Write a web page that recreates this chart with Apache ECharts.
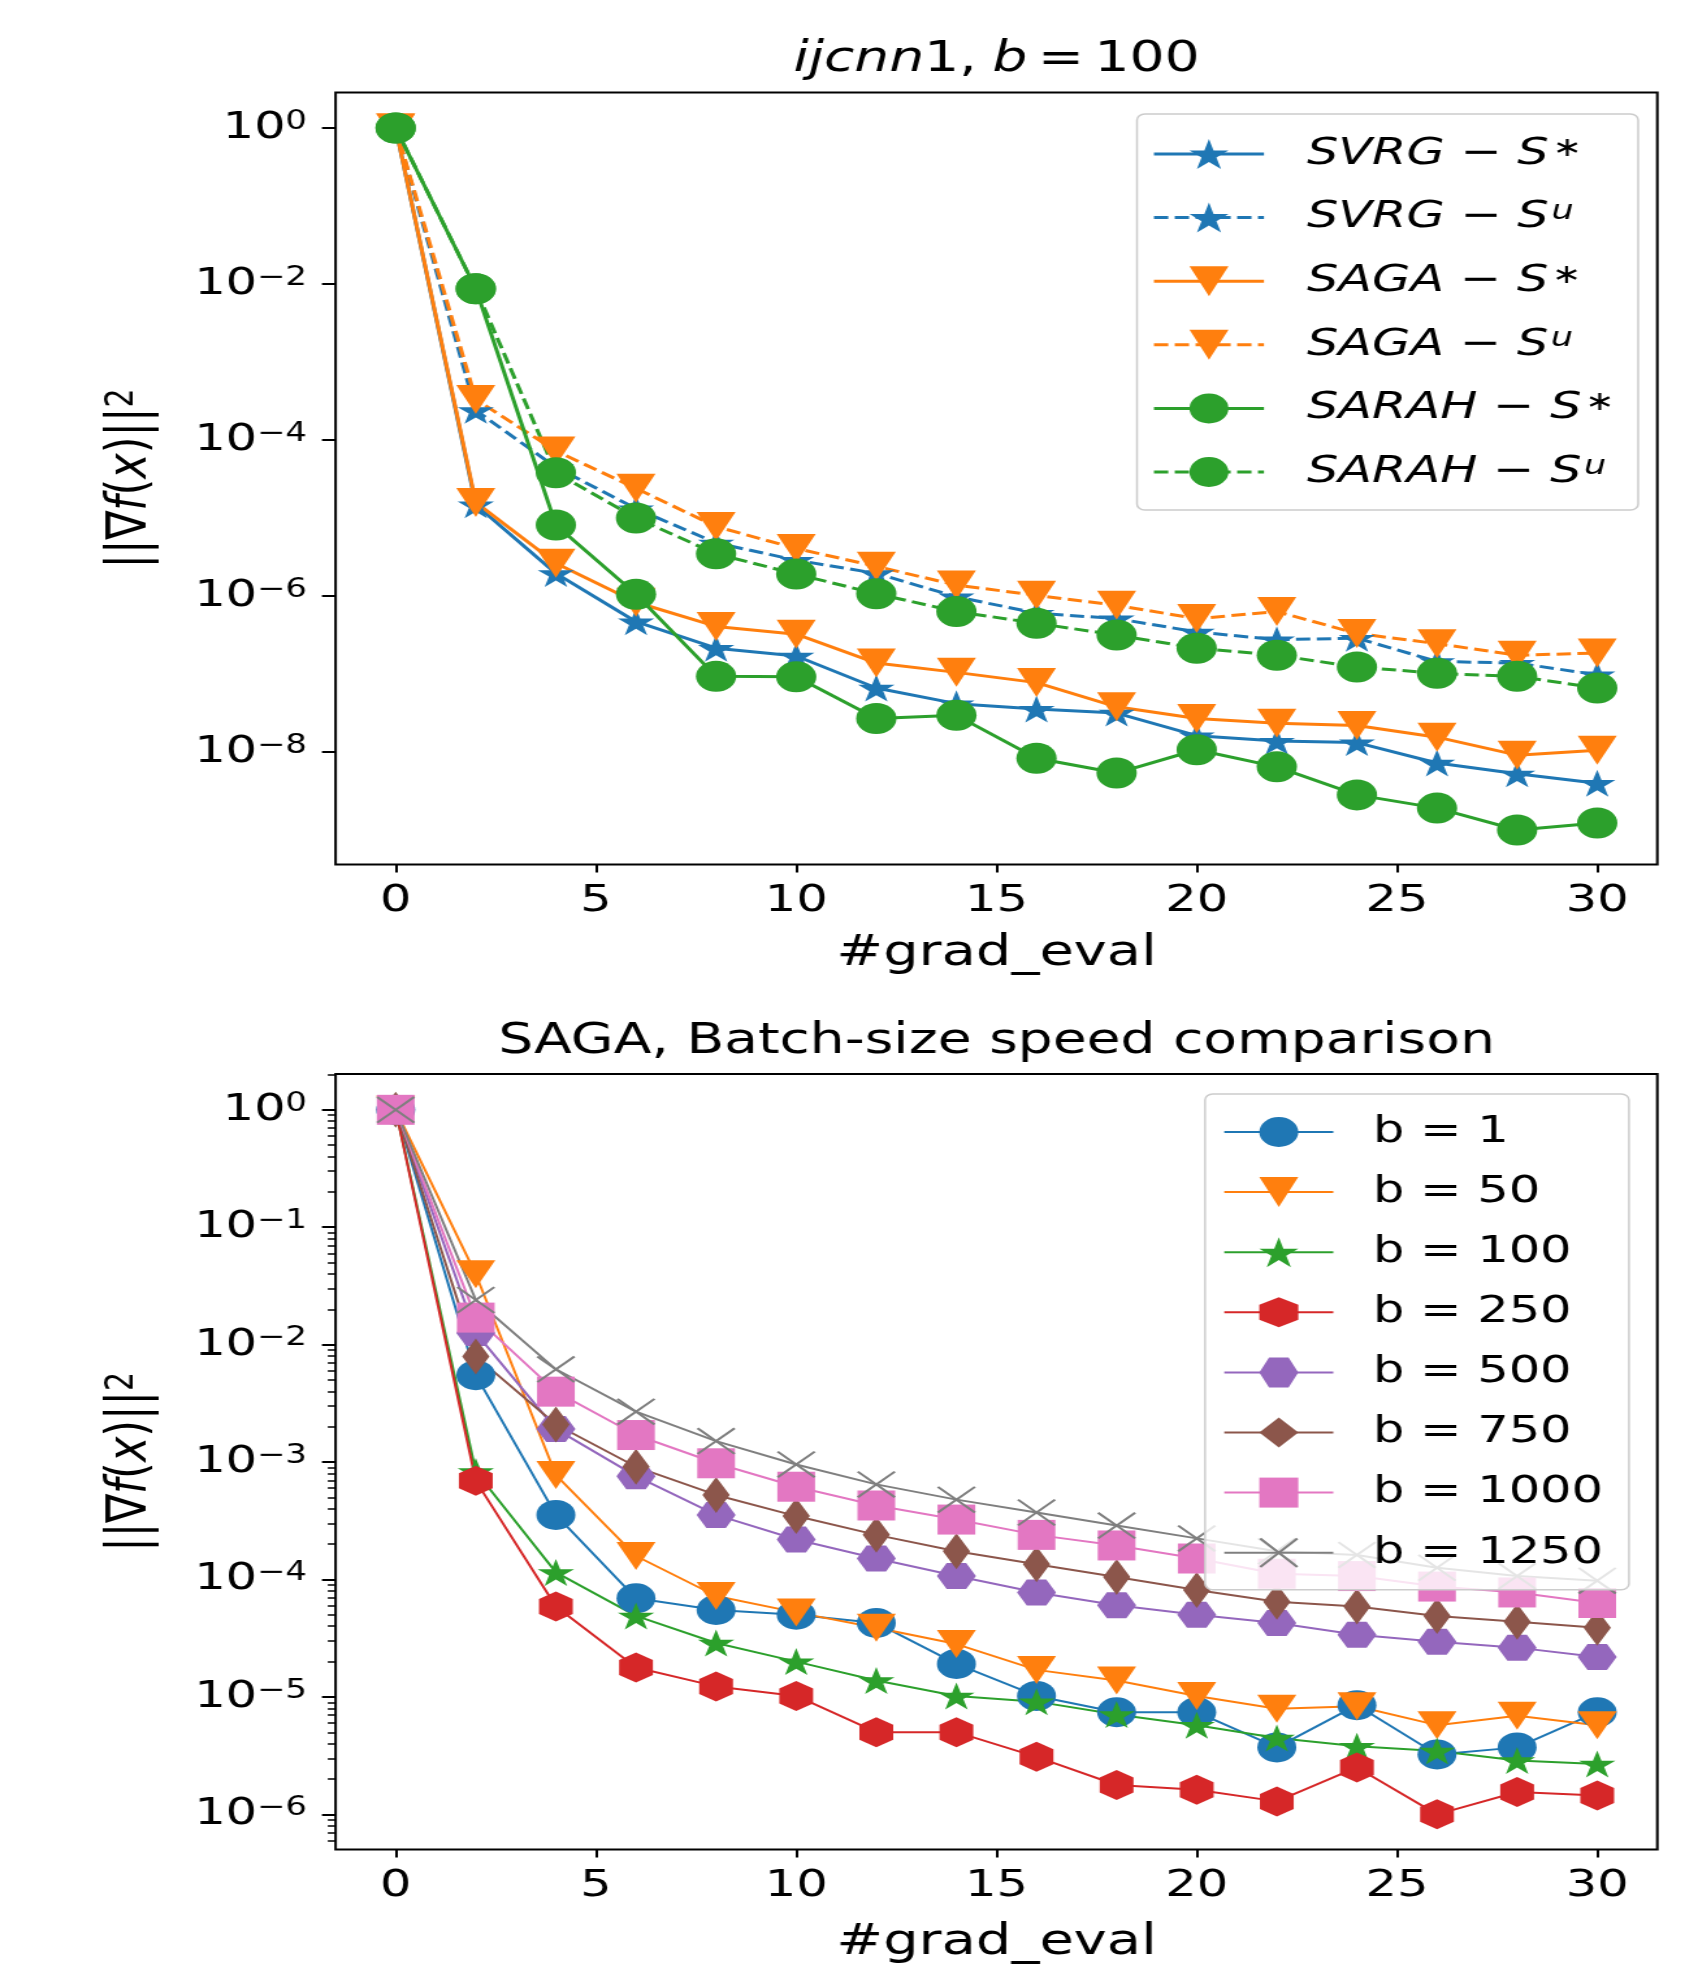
<!DOCTYPE html>
<html><head><meta charset="utf-8">
<script src="https://cdn.jsdelivr.net/npm/echarts@6/dist/echarts.min.js"></script>
<style>
html,body{margin:0;padding:0;background:#fff;overflow:hidden;}
#wrap{width:1698px;height:1964px;overflow:hidden;position:relative;background:#fff;}
#chart{position:absolute;left:0;top:0;width:1306px;height:1964px;transform:scaleX(1.30015);transform-origin:0 0;}
</style></head><body>
<div id="wrap"><div id="chart"></div></div>
<script>
// ---------------- data ----------------
const xGrad = [0,2,4,6,8,10,12,14,16,18,20,22,24,26,28,30];
const xTicks = [0,5,10,15,20,25,30];
const topYTicks = [1,1e-2,1e-4,1e-6,1e-8];
const botYTicks = [1,1e-1,1e-2,1e-3,1e-4,1e-5,1e-6];

// top panel: ijcnn1, b = 100
const topNames = ['SVRG-S*','SVRG-Su','SAGA-S*','SAGA-Su','SARAH-S*','SARAH-Su'];
const svrgStar = [1,1.48e-5,1.95e-6,4.68e-7,2.14e-7,1.70e-7,6.61e-8,4.17e-8,3.55e-8,3.16e-8,1.62e-8,1.38e-8,1.32e-8,7.24e-9,5.25e-9,3.98e-9];
const svrgU    = [1,2.40e-4,4.47e-5,1.32e-5,4.79e-6,2.88e-6,1.95e-6,9.77e-7,6.03e-7,5.13e-7,3.47e-7,2.75e-7,2.88e-7,1.45e-7,1.38e-7,9.77e-8];
const sagaStar = [1,1.585e-5,2.63e-6,8.32e-7,4.07e-7,3.24e-7,1.38e-7,1.05e-7,7.76e-8,3.80e-8,2.69e-8,2.34e-8,2.19e-8,1.55e-8,9.12e-9,1.05e-8];
const sagaU    = [1,3.31e-4,7.24e-5,2.40e-5,7.76e-6,4.07e-6,2.40e-6,1.38e-6,1.02e-6,7.59e-7,5.13e-7,6.31e-7,3.31e-7,2.45e-7,1.74e-7,1.86e-7];
const sarahStar= [1,8.71e-3,8.13e-6,1.05e-6,9.33e-8,9.20e-8,2.69e-8,2.95e-8,8.32e-9,5.37e-9,1.07e-8,6.46e-9,2.82e-9,1.91e-9,1.00e-9,1.23e-9];
const sarahU   = [1,8.71e-3,3.80e-5,1.00e-5,3.47e-6,1.91e-6,1.07e-6,6.31e-7,4.47e-7,3.16e-7,2.14e-7,1.74e-7,1.23e-7,1.02e-7,9.33e-8,6.61e-8];

// bottom panel: SAGA batch sizes
const botNames = ['b = 1','b = 50','b = 100','b = 250','b = 500','b = 750','b = 1000','b = 1250'];
const b1    = [1,5.50e-3,3.55e-4,6.92e-5,5.50e-5,5.01e-5,4.27e-5,1.91e-5,1.02e-5,7.41e-6,7.41e-6,3.72e-6,8.51e-6,3.24e-6,3.72e-6,7.41e-6];
const b50   = [1,3.98e-2,7.76e-4,1.585e-4,7.24e-5,5.25e-5,3.89e-5,2.82e-5,1.70e-5,1.38e-5,1.02e-5,7.94e-6,8.32e-6,5.75e-6,6.92e-6,5.75e-6];
const b100  = [1,8.32e-4,1.15e-4,4.90e-5,2.88e-5,2.00e-5,1.38e-5,1.02e-5,9.12e-6,7.08e-6,5.75e-6,4.47e-6,3.80e-6,3.47e-6,2.88e-6,2.69e-6];
const b250  = [1,6.92e-4,5.89e-5,1.78e-5,1.23e-5,1.02e-5,5.01e-6,5.01e-6,3.09e-6,1.78e-6,1.62e-6,1.29e-6,2.51e-6,1.00e-6,1.55e-6,1.45e-6];
const b500  = [1,1.26e-2,1.91e-3,7.59e-4,3.55e-4,2.19e-4,1.51e-4,1.07e-4,7.76e-5,6.03e-5,5.01e-5,4.27e-5,3.39e-5,2.95e-5,2.63e-5,2.19e-5];
const b750  = [1,7.94e-3,2.09e-3,9.12e-4,5.25e-4,3.47e-4,2.40e-4,1.74e-4,1.35e-4,1.05e-4,8.13e-5,6.46e-5,5.89e-5,4.90e-5,4.37e-5,3.89e-5];
const b1000 = [1,1.70e-2,3.98e-3,1.70e-3,9.77e-4,6.17e-4,4.27e-4,3.24e-4,2.40e-4,1.95e-4,1.51e-4,1.12e-4,1.07e-4,8.71e-5,7.76e-5,6.31e-5];
const b1250 = [1,2.40e-2,6.17e-3,2.69e-3,1.51e-3,9.55e-4,6.46e-4,4.79e-4,3.72e-4,2.88e-4,2.24e-4,1.74e-4,1.62e-4,1.26e-4,1.07e-4,9.77e-5];

// ---------------- presentation ----------------
const S = 1698 / 1306;            // horizontal stretch of the reference
const X = v => v / S;             // full-image px -> chart px (horizontal)
const FONT = 'DejaVu Sans';
const C = {blue:'#1f77b4', orange:'#ff7f0e', green:'#2ca02c', red:'#d62728',
           purple:'#9467bd', brown:'#8c564b', pink:'#e377c2', gray:'#7f7f7f'};

const STAR = 'path://M0,-1L0.2245,-0.309L0.9511,-0.309L0.3633,0.118L0.5878,0.809L0,0.382L-0.5878,0.809L-0.3633,0.118L-0.9511,-0.309L-0.2245,-0.309Z';
const TRI_DOWN = 'path://M-1,-1L1,-1L0,1Z';
const HEX_PT = 'path://M0,-1L0.866,-0.5L0.866,0.5L0,1L-0.866,0.5L-0.866,-0.5Z';
const HEX_FLAT = 'path://M-1,0L-0.5,-0.866L0.5,-0.866L1,0L0.5,0.866L-0.5,0.866Z';
const THIN_DIAMOND = 'path://M0,-1L0.6,0L0,1L-0.6,0Z';
const XMARK = 'path://M-1,-0.9L-0.9,-1L1,0.9L0.9,1Z M0.9,-1L1,-0.9L-0.9,1L-1,0.9Z';

const minorVals = [];
for (let k = -8; k <= 0; k++) for (let m = 2; m <= 9; m++) minorVals.push(+(m * Math.pow(10, k)).toPrecision(3));

const tickRich = {
  b: {fontFamily: FONT, fontSize: 38, lineHeight: 38, color: '#000'},
  s: {fontFamily: FONT, fontSize: 26, lineHeight: 21, verticalAlign: 'top', color: '#000'}
};
const powLabel = v => '{b|10}{s|' + String(Math.round(Math.log10(v))).replace('-', '\u2212') + '}';

const NF = 43; // axis-name font size
const nameRich = {
  n: {fontFamily: FONT, fontSize: NF, lineHeight: NF, color: '#000'},
  i: {fontFamily: FONT, fontSize: NF, lineHeight: NF, fontStyle: 'italic', color: '#000'},
  s: {fontFamily: FONT, fontSize: 30, lineHeight: 23, verticalAlign: 'top', color: '#000'}
};
const yName = '{n|||\u2207}{i|f}{n|(}{i|x}{n|)||}{s|2}';

const grids = [
  {left: X(335.6), top: 92.5, width: X(1657.3) - X(335.6), height: 772},
  {left: X(335.6), top: 1074, width: X(1657.3) - X(335.6), height: 775.6}
];
const yExt = [[Math.pow(10, -9.442), Math.pow(10, 0.455)], [Math.pow(10, -6.30), Math.pow(10, 0.305)]];

function xAxisCfg(gi, nameGap) {
  return {
    type: 'value', gridIndex: gi, min: -1.5, max: 31.5,
    name: '#grad_eval', nameLocation: 'middle', nameGap: nameGap,
    nameTextStyle: {fontFamily: FONT, fontSize: NF, lineHeight: NF, color: '#000'},
    axisLine: {show: false, onZero: false},
    splitLine: {show: false},
    axisTick: {show: true, length: 8, inside: false, customValues: xTicks, lineStyle: {color: '#000', width: 2}},
    axisLabel: {show: true, margin: 18, customValues: xTicks, fontFamily: FONT, fontSize: 38, lineHeight: 38, color: '#000',
                formatter: v => String(v)}
  };
}
function yAxisCfg(gi, ticks) {
  return {
    type: 'log', logBase: 10, gridIndex: gi, min: yExt[gi][0], max: yExt[gi][1], position: 'left',
    name: yName, nameLocation: 'middle', nameGap: 136, nameRotate: 90,
    nameTextStyle: {rich: nameRich, fontFamily: FONT, fontSize: NF, lineHeight: NF, color: '#000'},
    axisLine: {show: false, onZero: false}, splitLine: {show: false}, minorTick: {show: false},
    axisTick: {show: true, length: 10.5, customValues: ticks, lineStyle: {color: '#000', width: 2}},
    axisLabel: {show: true, margin: 22, customValues: ticks, formatter: powLabel, rich: tickRich}
  };
}

function mkSeries(name, ys, color, symbol, size, dashed, gi, lw) {
  return {
    name: name, type: 'line', xAxisIndex: gi, yAxisIndex: gi === 0 ? 0 : 1,
    data: xGrad.map((x, i) => [x, ys[i]]),
    symbol: symbol, symbolSize: size, symbolKeepAspect: false,
    showSymbol: true, showAllSymbol: true, clip: false, silent: true,
    lineStyle: {color: color, width: lw, type: dashed ? [11, 5] : 'solid'},
    itemStyle: {color: color},
    emphasis: {disabled: true}
  };
}

const series = [
  mkSeries(topNames[0], svrgStar, C.blue, STAR, [28, 27], false, 0, 3),
  mkSeries(topNames[1], svrgU, C.blue, STAR, [28, 27], true, 0, 3),
  mkSeries(topNames[2], sagaStar, C.orange, TRI_DOWN, [30, 29], false, 0, 3),
  mkSeries(topNames[3], sagaU, C.orange, TRI_DOWN, [30, 29], true, 0, 3),
  mkSeries(topNames[4], sarahStar, C.green, 'circle', [31, 31], false, 0, 3),
  mkSeries(topNames[5], sarahU, C.green, 'circle', [31, 31], true, 0, 3),

  mkSeries(botNames[0], b1, C.blue, 'circle', [30, 30], false, 1, 2),
  mkSeries(botNames[1], b50, C.orange, TRI_DOWN, [30, 28], false, 1, 2),
  mkSeries(botNames[2], b100, C.green, STAR, [28, 27], false, 1, 2),
  mkSeries(botNames[3], b250, C.red, HEX_PT, [26, 30], false, 1, 2),
  mkSeries(botNames[4], b500, C.purple, HEX_FLAT, [30, 26], false, 1, 2),
  mkSeries(botNames[5], b750, C.brown, THIN_DIAMOND, [21, 36], false, 1, 2),
  mkSeries(botNames[6], b1000, C.pink, 'rect', [29, 30], false, 1, 2),
  mkSeries(botNames[7], b1250, C.gray, XMARK, [30, 27], false, 1, 2)
];

const legRich = {
  g: {width: 28, fontSize: 38, lineHeight: 38},
  i: {fontFamily: FONT, fontStyle: 'italic', fontSize: 38, lineHeight: 38, color: '#000'},
  r: {fontFamily: FONT, fontSize: 38, lineHeight: 38, color: '#000'},
  sa: {fontFamily: FONT, fontSize: 27, lineHeight: 18, verticalAlign: 'top', color: '#000', padding: [0, 0, 0, 3]},
  si: {fontFamily: FONT, fontStyle: 'italic', fontSize: 27, lineHeight: 22, verticalAlign: 'top', color: '#000', padding: [0, 0, 0, 2]}
};
function topLegendLabel(name) {
  const parts = name.split('-');
  const sup = parts[1].slice(1);
  return '{g| }{i|' + parts[0] + '}{r| \u2212 }{i|S}' + (sup === '*' ? '{sa|\u2217}' : '{si|u}');
}
const legRich2 = {
  g: {width: 25.6, fontSize: 38, lineHeight: 38},
  r: {fontFamily: FONT, fontSize: 38, lineHeight: 38, color: '#000'}
};

const TF = 42.4; // title font size
const titleRich = {
  i: {fontFamily: FONT, fontStyle: 'italic', fontSize: TF, lineHeight: TF, fill: '#000'},
  r: {fontFamily: FONT, fontSize: TF, lineHeight: TF, fill: '#000'},
  w1: {width: 12, fontSize: TF, lineHeight: TF},
  w2: {width: 8, fontSize: TF, lineHeight: TF}
};

const option = {
  animation: false,
  backgroundColor: '#fff',
  grid: grids.map(g => Object.assign({show: true, borderColor: '#000', borderWidth: 2, backgroundColor: 'transparent', containLabel: false, outerBoundsMode: 'none'}, g)),
  xAxis: [xAxisCfg(0, 67.5), xAxisCfg(1, 71.5)],
  yAxis: [
    yAxisCfg(0, topYTicks),
    yAxisCfg(1, botYTicks),
    {type: 'log', logBase: 10, gridIndex: 1, min: yExt[1][0], max: yExt[1][1], position: 'left',
     axisLine: {show: false, onZero: false}, splitLine: {show: false}, axisLabel: {show: false},
     axisTick: {show: true, length: 6, customValues: minorVals, lineStyle: {color: '#000', width: 1.5}}}
  ],
  legend: [
    {
      data: topNames, orient: 'vertical', left: X(1137), top: 114,
      padding: [21, 18, 19, X(1152) - X(1137)],
      itemWidth: X(1262) - X(1152), itemHeight: 37.5, itemGap: 25.6,
      backgroundColor: 'rgba(255,255,255,0.8)', borderColor: '#cccccc', borderWidth: 1.5, borderRadius: 6,
      selectedMode: false, lineStyle: {width: 3},
      formatter: topLegendLabel,
      textStyle: {fontFamily: FONT, fontSize: 38, lineHeight: 38, color: '#000', rich: legRich}
    },
    {
      data: botNames, orient: 'vertical', left: X(1205), top: 1094,
      padding: [19, 20, 18, X(1223) - X(1205)],
      itemWidth: X(1332) - X(1223), itemHeight: 37.5, itemGap: 22.1,
      backgroundColor: 'rgba(255,255,255,0.8)', borderColor: '#cccccc', borderWidth: 1.5, borderRadius: 6,
      selectedMode: false, lineStyle: {width: 2},
      formatter: n => '{g| }{r|' + n + '}',
      textStyle: {fontFamily: FONT, fontSize: 38, lineHeight: 38, color: '#000', rich: legRich2}
    }
  ],
  graphic: [
    {type: 'text', x: X(996.5), y: 60, z: 10, silent: true,
     style: {text: '{i|ijcnn}{r|1,}{w1| }{i|b}{w2| }{r|=}{w2| }{r|100}', rich: titleRich, align: 'center', verticalAlign: 'middle', fill: '#000'}},
    {type: 'text', x: X(996.5), y: 1042, z: 10, silent: true,
     style: {text: 'SAGA, Batch-size speed comparison', font: TF + 'px "DejaVu Sans"', fontFamily: FONT, fontSize: TF, align: 'center', verticalAlign: 'middle', fill: '#000'}}
  ],
  series: series
};

const chart = echarts.init(document.getElementById('chart'), null, {renderer: 'canvas', width: 1306, height: 1964});
chart.setOption(option);
</script>
</body></html>
